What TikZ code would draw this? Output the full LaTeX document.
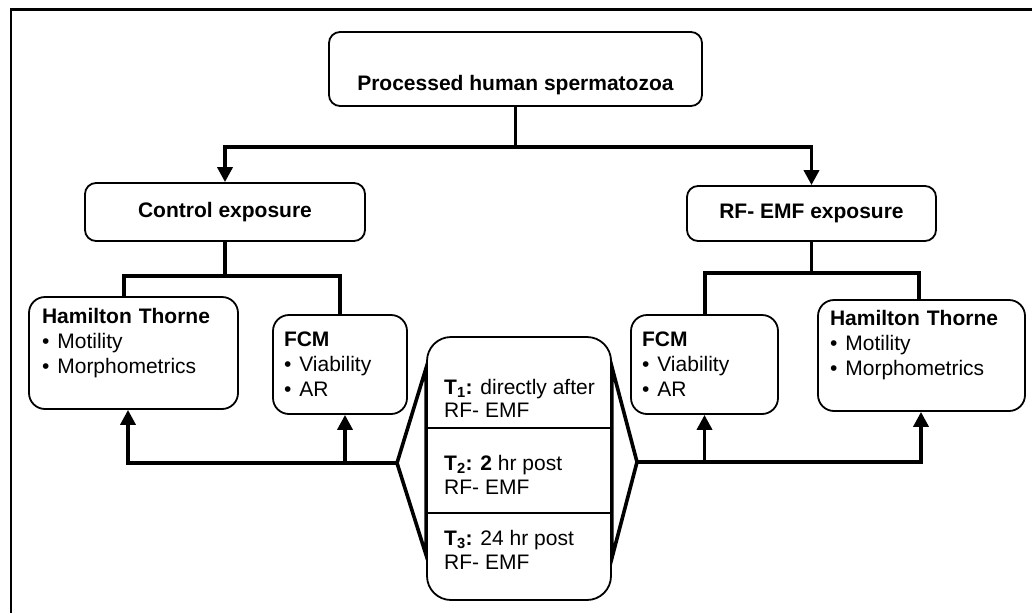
\documentclass[tikz,border=0pt]{standalone}
\usepackage{fontspec}
\setmainfont{Liberation Sans}
\usepackage{tikz}
\usetikzlibrary{arrows.meta,positioning}

\begin{document}
\begin{tikzpicture}[
  x=1pt,y=-1pt,
  font=\fontsize{21}{25}\selectfont,
  box/.style={rounded corners=11pt,draw,line width=1.8pt,inner sep=0pt},
  listbox/.style={box,rounded corners=16pt,align=left},
  tstep/.style={anchor=west,inner sep=0pt,align=left,font=\fontsize{21}{23.5}\selectfont},
  divider/.style={line width=1.3pt},
  conn/.style={line width=3.6pt,line join=miter},
  arrow/.style={conn,-{Triangle[length=15pt,width=15pt]}}
]
\useasboundingbox (0,0) rectangle (1032,613);
\draw[line width=2.2pt] (11,613) -- (11,9.5) -- (1032,9.5);

\node[box,minimum width=373pt,minimum height=74pt,text height=43pt,text depth=0pt] (src) at (515.5,69) {\textbf{Processed human spermatozoa}};
\node[box,minimum width=280pt,minimum height=58pt] (ctrl) at (225,212) {\textbf{Control exposure}};
\node[box,minimum width=249pt,minimum height=55pt] (rf) at (811.5,213.5) {\textbf{RF- EMF exposure}};

\node[listbox,minimum width=209pt,minimum height=112pt,text width=183pt] (hamL) at (133.5,353)
  {\textbf{Hamilton Thorne}\\\textbullet\hspace{8pt}Motility\\\textbullet\hspace{8pt}Morphometrics\\\mbox{}};
\node[listbox,minimum width=134pt,minimum height=99pt,text width=112pt] (fcmL) at (340,364.5)
  {\textbf{FCM}\\\textbullet\hspace{8pt}Viability\\\textbullet\hspace{8pt}AR};
\node[listbox,minimum width=147pt,minimum height=99pt,text width=125pt] (fcmR) at (704.5,364.5)
  {\textbf{FCM}\\\textbullet\hspace{8pt}Viability\\\textbullet\hspace{8pt}AR};
\node[listbox,minimum width=207pt,minimum height=111pt,text width=183pt] (hamR) at (921.5,355.5)
  {\textbf{Hamilton Thorne}\\\textbullet\hspace{8pt}Motility\\\textbullet\hspace{8pt}Morphometrics\\\mbox{}};

% time points
\node[box,rounded corners=24pt,minimum width=184pt,minimum height=263pt] (times) at (519,468.5) {};
\draw[divider] ([yshift=40.5pt]times.west) -- ([yshift=40.5pt]times.east);
\draw[divider] ([yshift=-44.5pt]times.west) -- ([yshift=-44.5pt]times.east);
\node[tstep] (t1) at (444,398.5) {\textbf{T\textsubscript{1}:} directly after\\RF- EMF};
\node[tstep] (t2) at (444,475) {\textbf{T\textsubscript{2}: 2} hr post\\RF- EMF};
\node[tstep] (t3) at (444,550) {\textbf{T\textsubscript{3}:} 24 hr post\\RF- EMF};

\coordinate (split) at (515.5,147);
\coordinate (cjL) at (124,276);
\coordinate (cjR) at (340,276);
\coordinate (rjL) at (705,273);
\coordinate (rjR) at (919,273);
\coordinate (apexL) at (397,463);
\coordinate (apexR) at (637,462);
\coordinate (bjL) at (128,463);
\coordinate (bjM) at (345,463);
\coordinate (bjR) at (921,462);

\draw[conn] (src.south) -- (split);
\draw[arrow] (split) -| (ctrl.north);
\draw[arrow] (split) -| (rf.north);

\draw[conn] (ctrl.south) -- (ctrl.south |- cjL);
\draw[conn] (cjL |- hamL.north) -- (cjL) -- (cjR) -- (fcmL.north);
\draw[conn] (rf.south) -- (rf.south |- rjL);
\draw[conn] (fcmR.north -| rjL) -- (rjL) -- (rjR) -- (rjR |- hamR.north);

\draw[conn] ([yshift=100.5pt]times.west) -- (apexL) -- ([yshift=-86.5pt]times.west) -- cycle;
\draw[conn] ([yshift=101.5pt]times.east) -- (apexR) -- ([yshift=-89.5pt]times.east) -- cycle;

\draw[arrow] (apexL) -- (bjL) -- (bjL |- hamL.south);
\draw[arrow] (bjM) -- (bjM |- fcmL.south);
\draw[arrow] (apexR) -- (bjR) -- (bjR |- hamR.south);
\draw[arrow] (apexR -| fcmR.south) -- (fcmR.south);
\end{tikzpicture}
\end{document}
